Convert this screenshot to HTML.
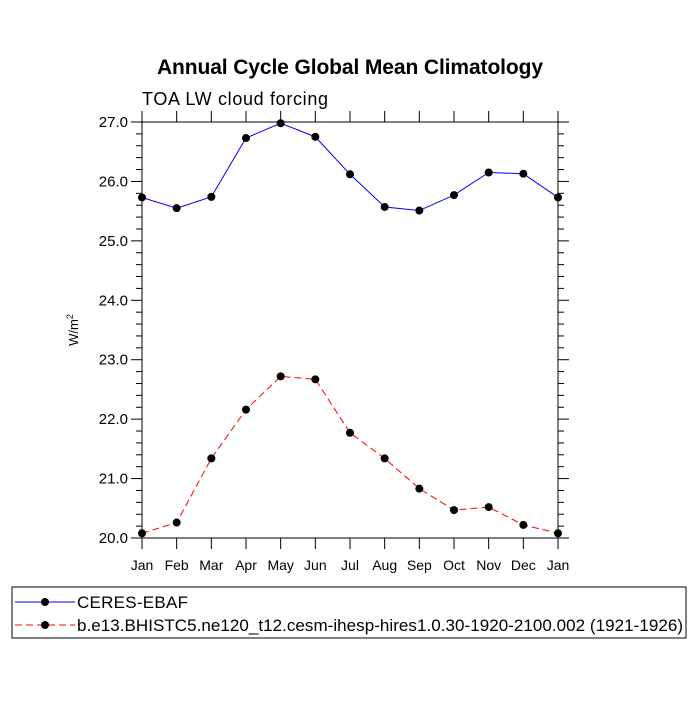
<!DOCTYPE html>
<html><head><meta charset="utf-8"><style>
body{margin:0;background:#fff}
svg text{font-family:"Liberation Sans",Arial,sans-serif}
</style></head><body>
<svg id="chart" width="700" height="700" viewBox="0 0 700 700" xmlns="http://www.w3.org/2000/svg">
<text x="350" y="74" text-anchor="middle" font-size="21" font-weight="bold" textLength="386">Annual Cycle Global Mean Climatology</text>
<text x="142" y="105" font-size="18" textLength="186">TOA LW cloud forcing</text>
<text transform="translate(78,330) rotate(-90)" text-anchor="middle" font-size="13">W/m<tspan dy="-5" font-size="9">2</tspan></text>
<g id="axes"></g>
<g id="series"></g>
<rect x="12" y="587" width="674" height="51" fill="none" stroke="#000" stroke-width="1"/>
<g>
<line x1="15" y1="602" x2="75" y2="602" stroke="#0000ff" stroke-width="1"/>
<circle cx="45" cy="602" r="4" fill="#000"/>
<text x="77" y="608" font-size="17" textLength="111">CERES-EBAF</text>
</g>
<g>
<line x1="15" y1="625" x2="75" y2="625" stroke="#ff0000" stroke-width="1" stroke-dasharray="7,4"/>
<circle cx="45" cy="625" r="4" fill="#000"/>
<text x="77" y="631" font-size="17" textLength="606">b.e13.BHISTC5.ne120_t12.cesm-ihesp-hires1.0.30-1920-2100.002 (1921-1926)</text>
</g>
</svg>
<script>
const months = ["Jan","Feb","Mar","Apr","May","Jun","Jul","Aug","Sep","Oct","Nov","Dec","Jan"];
const ceresValues = [25.73,25.55,25.74,26.73,26.98,26.75,26.12,25.57,25.51,25.77,26.15,26.13,25.73];
const modelValues = [20.08,20.26,21.34,22.16,22.72,22.67,21.77,21.34,20.83,20.47,20.52,20.22,20.08];
const yTicks = [20.0,21.0,22.0,23.0,24.0,25.0,26.0,27.0];
const yMin = 20, yMax = 27;
const L=142,R=558,T=122,B=538;
const NS="http://www.w3.org/2000/svg";
function xs(i){return L+(R-L)*i/(months.length-1);}
function ys(v){return B-(B-T)*(v-yMin)/(yMax-yMin);}
function mk(tag,attrs,parent){const e=document.createElementNS(NS,tag);for(const k in attrs)e.setAttribute(k,attrs[k]);parent.appendChild(e);return e;}
const ax=document.getElementById('axes');
const frame=mk('rect',{x:L,y:T,width:R-L,height:B-T,fill:'none',stroke:'#000','stroke-width':1},ax);


months.forEach((m,i)=>{
  const x=xs(i);
  mk('line',{x1:x,y1:B,x2:x,y2:B+11,stroke:'#000'},ax);
  mk('line',{x1:x,y1:T,x2:x,y2:T-11,stroke:'#000'},ax);
  const t=mk('text',{x:x,y:B+32,'text-anchor':'middle','font-size':14},ax);
  t.textContent=m;
  
  
});
for(let v=yMin;v<=yMax+1e-9;v+=0.2){
  const y=ys(v);
  const major=Math.abs(v-Math.round(v))<1e-6;
  const len=major?11:6;
  mk('line',{x1:L,y1:y,x2:L-len,y2:y,stroke:'#000'},ax);
  mk('line',{x1:R,y1:y,x2:R+len,y2:y,stroke:'#000'},ax);
}
yTicks.forEach(v=>{
  const t=mk('text',{x:L-14,y:ys(v)+5,'text-anchor':'end','font-size':15},ax);
  t.textContent=v.toFixed(1);
  
  
});
const sg=document.getElementById('series');
function drawSeries(vals,color,dash,name){
  const g=mk('g',{},sg);
  
  
  const pts=vals.map((v,i)=>xs(i)+','+ys(v)).join(' ');
  const a={points:pts,fill:'none',stroke:color,'stroke-width':1};
  if(dash)a['stroke-dasharray']=dash;
  mk('polyline',a,g);
  vals.forEach((v,i)=>{
    const c=mk('circle',{cx:xs(i),cy:ys(v),r:4,fill:'#000'},g);
    
    
  });
}
drawSeries(ceresValues,'#0000ff',null,'ceres-series');
drawSeries(modelValues,'#ff0000','7,4','model-series');
</script>
</body></html>
